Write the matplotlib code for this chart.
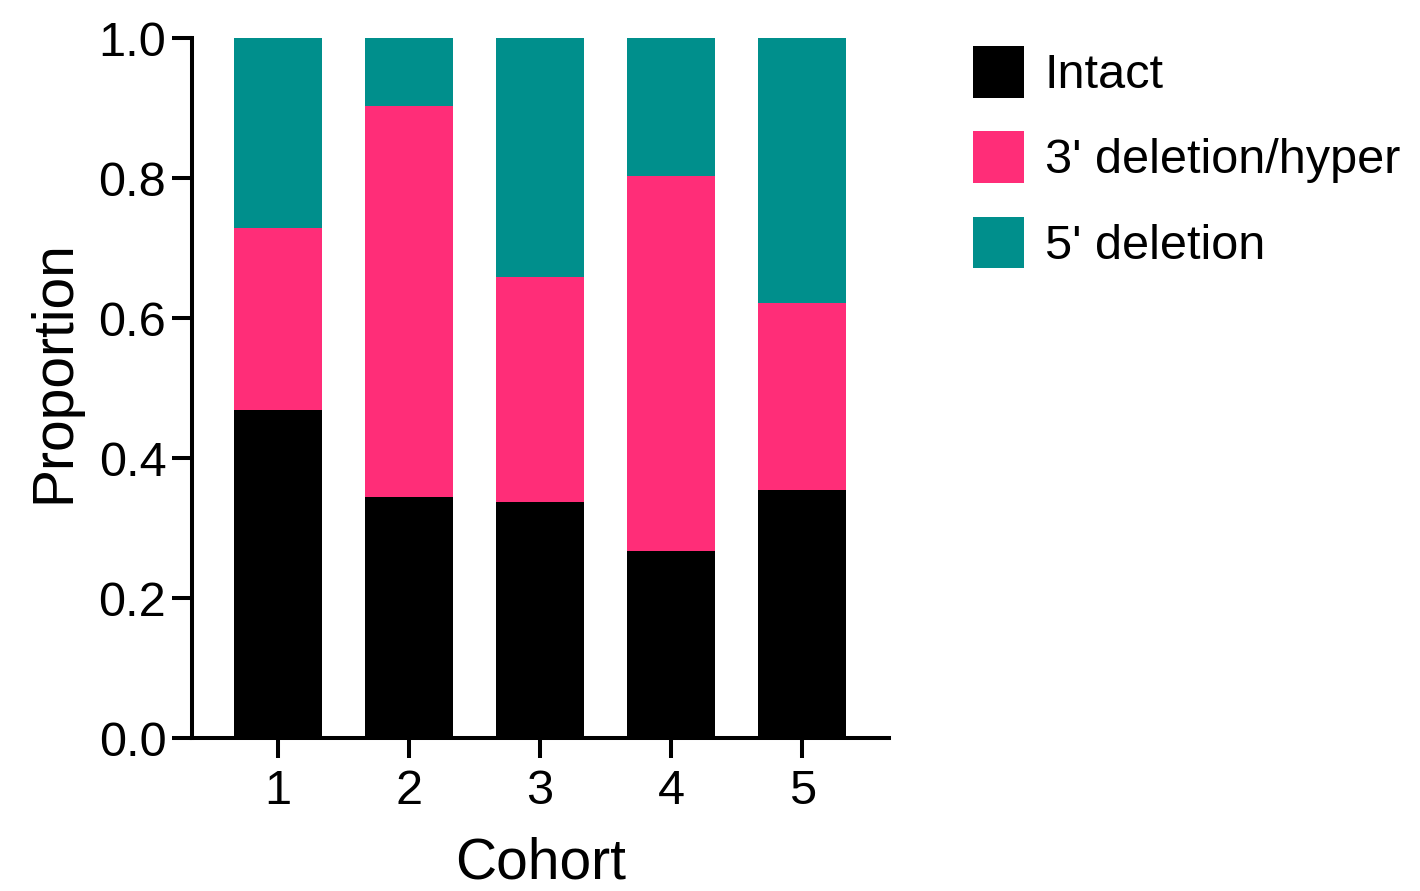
import matplotlib
matplotlib.use("Agg")
import matplotlib.pyplot as plt
import numpy as np
from matplotlib.patches import Patch

# ── Data (proportions) ────────────────────────────────────────────────────
cohorts = ["1", "2", "3", "4", "5"]
intact = [0.469, 0.344, 0.337, 0.267, 0.354]
del3_hyper = [0.260, 0.559, 0.322, 0.536, 0.267]
del5 = [0.271, 0.097, 0.341, 0.197, 0.379]

series_labels = ["Intact", "3' deletion/hyper", "5' deletion"]
series_colors = ["#000000", "#FF2D78", "#008F8C"]

plt.rcParams["font.family"] = ["Liberation Sans", "DejaVu Sans"]

fig = plt.figure(figsize=(14.2, 8.91), dpi=100)
ax = fig.add_axes([0.1352, 0.1717, 0.4908, 0.7856])

x = np.arange(1, len(cohorts) + 1)
bottom = np.zeros(len(cohorts))
for vals, lab, col in zip([intact, del3_hyper, del5], series_labels, series_colors):
    ax.bar(x, vals, width=0.67, bottom=bottom, color=col, label=lab,
           linewidth=0)
    bottom += np.asarray(vals)

ax.set_xlim(0.345, 5.66)
ax.set_ylim(0, 1.0)
ax.set_xticks(x)
ax.set_xticklabels(cohorts)
ax.set_yticks([0.0, 0.2, 0.4, 0.6, 0.8, 1.0])
ax.set_yticklabels([f"{v:.1f}" for v in [0.0, 0.2, 0.4, 0.6, 0.8, 1.0]])

for side in ("top", "right"):
    ax.spines[side].set_visible(False)
for side in ("left", "bottom"):
    ax.spines[side].set_linewidth(2.9)
    ax.spines[side].set_capstyle("projecting")

ax.tick_params(axis="both", labelsize=35, width=2.9, length=14.5,
               direction="out", color="black")
ax.tick_params(axis="x", pad=8)
ax.tick_params(axis="y", pad=4)

# Cohort sits right at the bottom edge, like the reference
ax.set_xlabel("Cohort", fontsize=41, labelpad=16)
ax.set_ylabel("Proportion", fontsize=41, labelpad=12)
ax.yaxis.label.set_y(0.523)

handles = [Patch(facecolor=c, edgecolor="none", label=l)
           for c, l in zip(series_colors, series_labels)]
fig.legend(handles=handles, loc="upper left",
           bbox_to_anchor=(0.685, 0.948), frameon=False, fontsize=35,
           borderpad=0, borderaxespad=0, handlelength=1.05,
           handleheight=1.25, handletextpad=0.43, labelspacing=0.68)

fig.savefig("out.png", dpi=100, facecolor="white")
